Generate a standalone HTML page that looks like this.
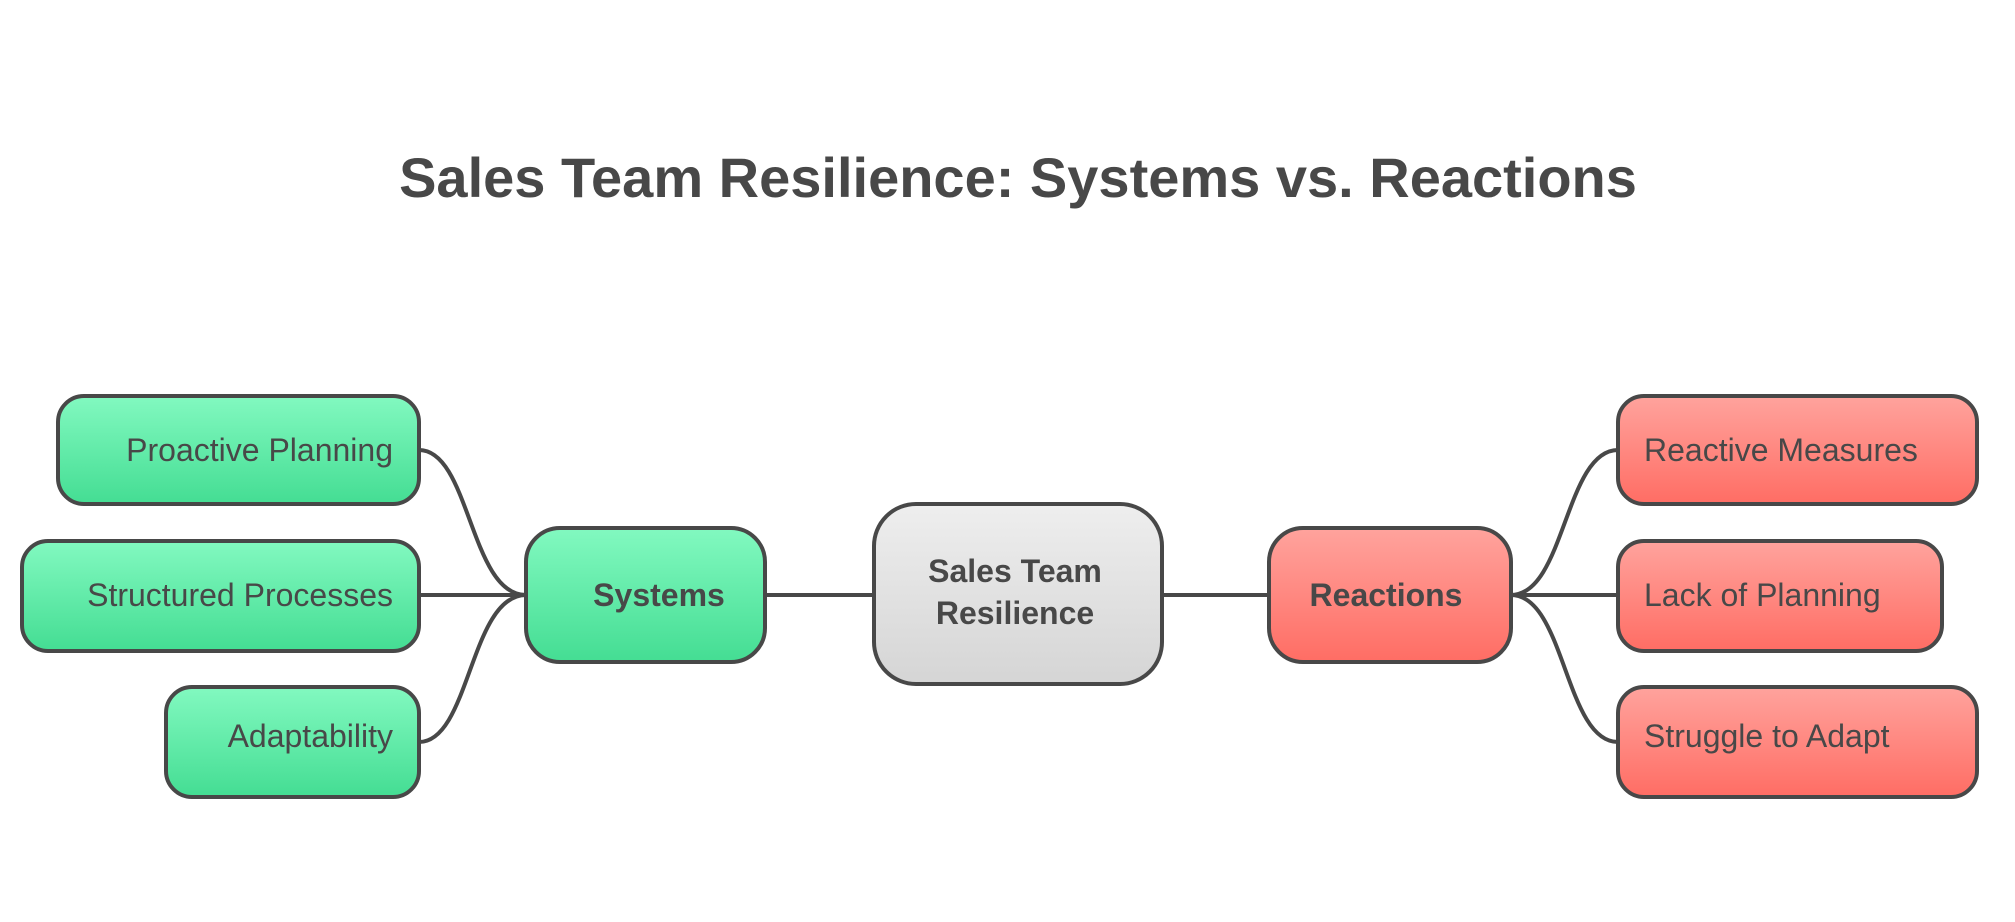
<!DOCTYPE html>
<html><head><meta charset="utf-8"><style>
html,body{margin:0;padding:0;background:#fff;}
svg{display:block;}
text{font-family:"Liberation Sans",Arial,sans-serif;fill:#484848;}
</style></head><body>
<svg width="2015" height="922" viewBox="0 0 2015 922" xmlns="http://www.w3.org/2000/svg">
<defs>
<linearGradient id="g" x1="0" y1="0" x2="0" y2="1"><stop offset="0" stop-color="#82F9C0"/><stop offset="1" stop-color="#44DD93"/></linearGradient>
<linearGradient id="r" x1="0" y1="0" x2="0" y2="1"><stop offset="0" stop-color="#FFA39D"/><stop offset="1" stop-color="#FF6D64"/></linearGradient>
<linearGradient id="c" x1="0" y1="0" x2="0" y2="1"><stop offset="0" stop-color="#EEEEEE"/><stop offset="1" stop-color="#D5D5D5"/></linearGradient>
</defs>
<rect width="2015" height="922" fill="#fff"/>
<text x="1018" y="197" text-anchor="middle" font-size="56" font-weight="bold">Sales Team Resilience: Systems vs. Reactions</text>
<g fill="none" stroke="#484848" stroke-width="4">
<path d="M419 450 C470 450 470 595 526 595"/>
<path d="M419 595 L526 595"/>
<path d="M419 742 C470 742 470 595 526 595"/>
<path d="M765 595 L874 595"/>
<path d="M1160 595 L1269 595"/>
<path d="M1511 595 C1565 595 1565 450 1618 450"/>
<path d="M1511 595 L1618 595"/>
<path d="M1511 595 C1565 595 1565 742 1618 742"/>
</g>
<g stroke="#484848" stroke-width="4">
<rect x="58" y="396" width="361" height="108" rx="26" fill="url(#g)"/>
<rect x="22" y="541" width="397" height="110" rx="26" fill="url(#g)"/>
<rect x="166" y="687" width="253" height="110" rx="26" fill="url(#g)"/>
<rect x="526" y="528" width="239" height="134" rx="34" fill="url(#g)"/>
<rect x="874" y="504" width="288" height="180" rx="42" fill="url(#c)"/>
<rect x="1269" y="528" width="242" height="134" rx="34" fill="url(#r)"/>
<rect x="1618" y="396" width="359" height="108" rx="26" fill="url(#r)"/>
<rect x="1618" y="541" width="324" height="110" rx="26" fill="url(#r)"/>
<rect x="1618" y="687" width="359" height="110" rx="26" fill="url(#r)"/>
</g>
<g font-size="32">
<text x="393" y="461" text-anchor="end">Proactive Planning</text>
<text x="393" y="606" text-anchor="end">Structured Processes</text>
<text x="393" y="747" text-anchor="end">Adaptability</text>
<text x="1644" y="461">Reactive Measures</text>
<text x="1644" y="606">Lack of Planning</text>
<text x="1644" y="747">Struggle to Adapt</text>
</g>
<g font-size="32" font-weight="bold" text-anchor="middle">
<text x="659" y="606">Systems</text>
<text x="1386" y="606">Reactions</text>
<text x="1015" y="582">Sales Team</text>
<text x="1015" y="624">Resilience</text>
</g>
</svg>
</body></html>
